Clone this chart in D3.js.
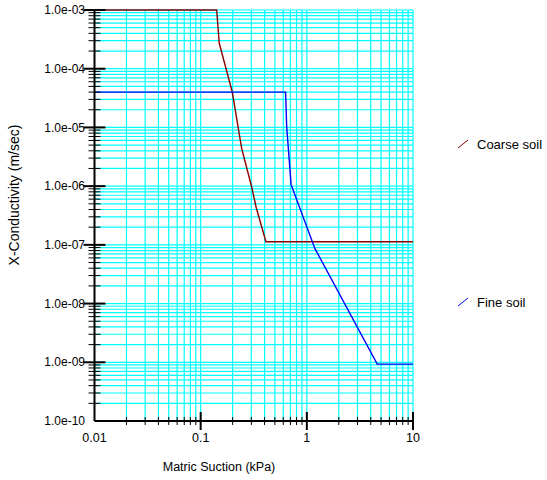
<!DOCTYPE html>
<html><head><meta charset="utf-8">
<script src="https://cdn.jsdelivr.net/npm/d3@7"></script>
<style>body{margin:0;background:#fff}svg{display:block}text{font-family:"Liberation Sans",Arial,sans-serif}</style>
</head><body><svg id="c" width="547" height="480"></svg>
<script>
const coarseSuction = [0.01, 0.1415, 0.1497, 0.1984, 0.2432, 0.302, 0.332, 0.412, 10];
const coarseK = [1e-3, 1e-3, 2.71e-4, 4.01e-5, 4.41e-6, 9.77e-7, 4.46e-7, 1.13e-7, 1.13e-7];
const fineSuction = [0.01, 0.631, 0.646, 0.711, 1.19, 4.60, 10];
const fineK = [4.0e-5, 4.0e-5, 1.03e-5, 1.06e-6, 8.7e-8, 9.3e-10, 9.3e-10];
const seriesNames = ["Coarse soil", "Fine soil"];
const xTickValues = [0.01, 0.1, 1, 10];
const xTickLabels = ["0.01", "0.1", "1", "10"];
const yTickValues = [1e-10, 1e-9, 1e-8, 1e-7, 1e-6, 1e-5, 1e-4, 1e-3];
const yTickLabels = ["1.0e-10", "1.0e-09", "1.0e-08", "1.0e-07", "1.0e-06", "1.0e-05", "1.0e-04", "1.0e-03"];

const svg = d3.select("#c");
const x = d3.scaleLog().domain([0.01, 10]).range([94.5, 413]);
const y = d3.scaleLog().domain([1e-10, 1e-3]).range([421, 10]);

const xMinor = [], yMinor = [];
for (let e = -2; e < 1; e++) for (let m = 2; m <= 9; m++) xMinor.push(m * Math.pow(10, e));
for (let e = -10; e < -3; e++) for (let m = 2; m <= 9; m++) yMinor.push(m * Math.pow(10, e));

const grid = svg.append("g").attr("stroke", "#00ffff").attr("stroke-width", 1.2);
grid.selectAll(".vx").data(xMinor.concat(xTickValues.slice(1))).join("line")
  .attr("x1", d => x(d)).attr("x2", d => x(d)).attr("y1", y(1e-3)).attr("y2", y(1e-10));
grid.selectAll(".hy").data(yMinor.concat(yTickValues.slice(1))).join("line")
  .attr("y1", d => y(d)).attr("y2", d => y(d)).attr("x1", x(0.01)).attr("x2", x(10));

const line = d3.line().x(d => x(d[0])).y(d => y(d[1]));
const coarse = coarseSuction.map((s, i) => [s, coarseK[i]]);
const fine = fineSuction.map((s, i) => [s, fineK[i]]);
const colors = ["#8b0000", "#0000ff"];
svg.append("path").attr("d", line(coarse)).attr("fill", "none").attr("stroke", colors[0]).attr("stroke-width", 1.4);
svg.append("path").attr("d", line(fine)).attr("fill", "none").attr("stroke", colors[1]).attr("stroke-width", 1.4);

const ax = svg.append("g").attr("stroke", "#000");
ax.append("line").attr("x1", x(0.01)).attr("x2", x(0.01)).attr("y1", y(1e-3)).attr("y2", y(1e-10)).attr("stroke-width", 2);
ax.append("line").attr("x1", x(0.01)).attr("x2", x(10)).attr("y1", y(1e-10)).attr("y2", y(1e-10)).attr("stroke-width", 2);
ax.selectAll(".ym").data(yMinor).join("line").attr("stroke-width", 1)
  .attr("x1", x(0.01) - 6).attr("x2", x(0.01) + 6).attr("y1", d => y(d)).attr("y2", d => y(d));
ax.selectAll(".yM").data(yTickValues.slice(1)).join("line").attr("stroke-width", 2)
  .attr("x1", x(0.01) - 11).attr("x2", x(0.01) + 11).attr("y1", d => y(d)).attr("y2", d => y(d));
ax.selectAll(".xm").data(xMinor).join("line").attr("stroke-width", 1)
  .attr("x1", d => x(d)).attr("x2", d => x(d)).attr("y1", y(1e-10) - 4).attr("y2", y(1e-10) + 4);
ax.selectAll(".xM").data(xTickValues.slice(1)).join("line").attr("stroke-width", 2)
  .attr("x1", d => x(d)).attr("x2", d => x(d)).attr("y1", y(1e-10) - 9).attr("y2", y(1e-10) + 9);

svg.append("g").selectAll("text").data(yTickValues).join("text")
  .attr("x", 85).attr("y", d => y(d)).attr("dy", "0.35em").attr("text-anchor", "end")
  .attr("font-size", 12).text((d, i) => yTickLabels[i]);
svg.append("g").selectAll("text").data(xTickValues).join("text")
  .attr("x", d => x(d)).attr("y", 442).attr("text-anchor", "middle")
  .attr("font-size", 12.5).text((d, i) => xTickLabels[i]);

svg.append("text").attr("x", 219).attr("y", 471).attr("text-anchor", "middle").attr("font-size", 12.5).text("Matric Suction (kPa)");
svg.append("text").attr("transform", "translate(19,195) rotate(-90)").attr("text-anchor", "middle").attr("font-size", 14).text("X-Conductivity (m/sec)");

const legY = [149, 307];
seriesNames.forEach((n, i) => {
  svg.append("line").attr("x1", 458).attr("y1", legY[i] - 1).attr("x2", 468).attr("y2", legY[i] - 9)
    .attr("stroke", colors[i]).attr("stroke-width", 1);
  svg.append("text").attr("x", 477).attr("y", legY[i]).attr("font-size", 13).text(n);
});
</script></body></html>
